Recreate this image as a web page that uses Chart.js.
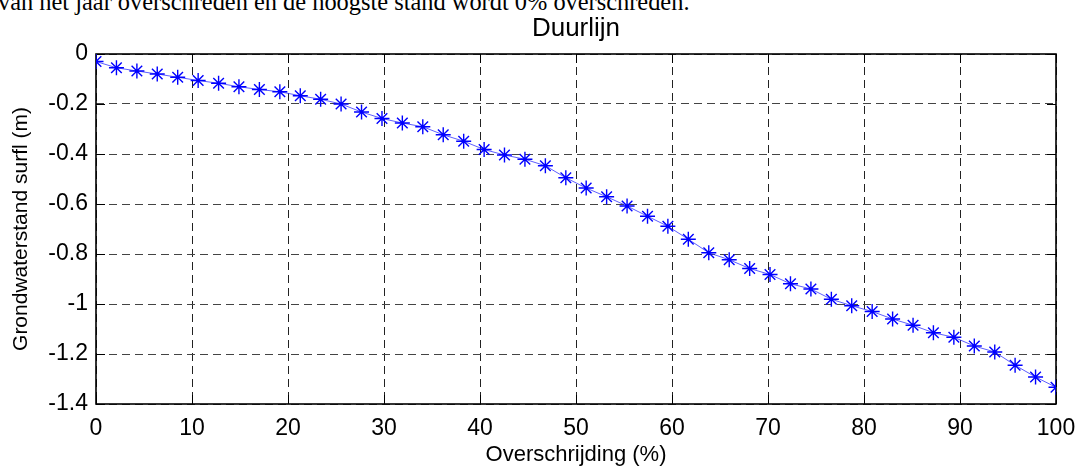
<!DOCTYPE html>
<html lang="nl">
<head>
  <meta charset="UTF-8" />
  <title>Duurlijn</title>
  <script src="https://cdn.jsdelivr.net/npm/chart.js"></script>
  <style>
    * {
      margin: 0;
      padding: 0;
      box-sizing: border-box;
    }

    body {
      width: 1080px;
      height: 468px;
      background: #fff;
      overflow: hidden;
      position: relative;
    }

    .cut-text {
      position: absolute;
      left: -2px;
      top: -11px;
      font-family: 'Liberation Serif', 'Times New Roman', serif;
      font-size: 24.4px;
      line-height: 25px;
      color: #000;
      white-space: nowrap;
    }

    .chart-container {
      position: absolute;
      left: 0;
      top: 0;
      width: 1080px;
      height: 468px;
    }
  </style>
</head>
<body>

  <!-- tail of the text paragraph above the figure -->
  <div class="cut-text">van het jaar overschreden en de hoogste stand wordt 0% overschreden.</div>

  <div class="chart-container">
    <canvas id="duurlijn"></canvas>
  </div>

  <script>
    // Overschrijding (%) of every marker
    const overschrijding = [
      0, 2.13, 4.26, 6.38, 8.51, 10.64, 12.77, 14.89, 17.02, 19.15,
      21.28, 23.40, 25.53, 27.66, 29.79, 31.91, 34.04, 36.17, 38.30, 40.43,
      42.55, 44.68, 46.81, 48.94, 51.06, 53.19, 55.32, 57.45, 59.57, 61.70,
      63.83, 65.96, 68.09, 70.21, 72.34, 74.47, 76.60, 78.72, 80.85, 82.98,
      85.11, 87.23, 89.36, 91.49, 93.62, 95.74, 97.87, 100
    ];

    // Grondwaterstand surfl (m)
    const grondwaterstand = [
      -0.030, -0.055, -0.068, -0.080, -0.093, -0.106, -0.117, -0.131, -0.142, -0.151,
      -0.167, -0.181, -0.200, -0.232, -0.258, -0.276, -0.291, -0.323, -0.349, -0.382,
      -0.404, -0.421, -0.447, -0.495, -0.536, -0.571, -0.608, -0.649, -0.689, -0.741,
      -0.795, -0.823, -0.858, -0.882, -0.919, -0.940, -0.981, -1.007, -1.030, -1.060,
      -1.085, -1.115, -1.133, -1.168, -1.192, -1.245, -1.292, -1.333
    ];

    const chartTitle = 'Duurlijn';
    const xTitle = 'Overschrijding (%)';
    const yTitle = 'Grondwaterstand surfl (m)';

    const FONT = "'Liberation Sans', Arial, sans-serif";

    // matlab style box, inward ticks and the title centred over the axes
    const matlabFrame = {
      id: 'matlabFrame',
      beforeDatasetsDraw(chart) {
        const { ctx, chartArea: a, scales } = chart;
        const len = 9;
        ctx.save();
        ctx.strokeStyle = '#000';
        ctx.lineWidth = 1;
        ctx.setLineDash([]);
        ctx.beginPath();
        scales.x.ticks.forEach(t => {
          const px = Math.round(scales.x.getPixelForValue(t.value)) + 0.5;
          ctx.moveTo(px, a.bottom); ctx.lineTo(px, a.bottom - len);
          ctx.moveTo(px, a.top); ctx.lineTo(px, a.top + len);
        });
        scales.y.ticks.forEach(t => {
          const py = Math.round(scales.y.getPixelForValue(t.value)) + 0.5;
          ctx.moveTo(a.left, py); ctx.lineTo(a.left + len, py);
          ctx.moveTo(a.right, py); ctx.lineTo(a.right - len, py);
        });
        ctx.stroke();
        ctx.lineWidth = 1.6;
        ctx.strokeRect(a.left, a.top, a.right - a.left, a.bottom - a.top);
        ctx.restore();
      },
      afterDraw(chart) {
        const { ctx, chartArea: a } = chart;
        ctx.save();
        ctx.fillStyle = '#000';
        ctx.font = '26px ' + FONT;
        ctx.textAlign = 'center';
        ctx.textBaseline = 'middle';
        ctx.fillText(chartTitle, (a.left + a.right) / 2, 29);
        ctx.restore();
      }
    };

    const ctx = document.getElementById('duurlijn').getContext('2d');

    new Chart(ctx, {
      type: 'line',
      data: {
        datasets: [{
          label: 'Duurlijn',
          data: overschrijding.map((x, i) => ({ x: x, y: grondwaterstand[i] })),
          borderColor: 'rgba(40, 40, 255, 0.75)',
          borderWidth: 1,
          pointStyle: 'star',
          pointRadius: 7.5,
          pointBorderColor: '#0000ff',
          pointBackgroundColor: '#0000ff',
          pointBorderWidth: 1.4,
          tension: 0,
          fill: false
        }]
      },
      options: {
        responsive: true,
        maintainAspectRatio: false,
        animation: false,
        layout: {
          padding: { left: 0, right: 0, top: 54, bottom: 0 }
        },
        plugins: {
          legend: { display: false },
          title: { display: false },
          tooltip: { enabled: false }
        },
        scales: {
          x: {
            type: 'linear',
            min: 0,
            max: 100,
            afterFit: s => {
              s.height = 64;
              s.paddingLeft = 0;
              s.paddingRight = 24;
            },
            ticks: {
              stepSize: 10,
              color: '#000',
              padding: 11,
              maxRotation: 0,
              font: { family: FONT, size: 23 }
            },
            grid: {
              color: '#222',
              lineWidth: 1,
              drawTicks: false
            },
            border: { display: false, dash: [8, 5] },
            title: {
              display: true,
              text: xTitle,
              color: '#000',
              font: { family: FONT, size: 22 },
              padding: { top: 0, bottom: 0 }
            }
          },
          y: {
            type: 'linear',
            min: -1.4,
            max: 0,
            afterFit: s => { s.width = 96; },
            ticks: {
              stepSize: 0.2,
              color: '#000',
              padding: 8,
              font: { family: FONT, size: 23 },
              callback: v => String(+Number(v).toFixed(1))
            },
            grid: {
              color: '#444',
              lineWidth: 1,
              drawTicks: false
            },
            border: { display: false, dash: [8, 5] },
            title: {
              display: true,
              text: yTitle,
              color: '#000',
              font: { family: FONT, size: 21 },
              padding: { top: 9, bottom: 0 }
            }
          }
        }
      },
      plugins: [matlabFrame]
    });
  </script>
</body>
</html>
